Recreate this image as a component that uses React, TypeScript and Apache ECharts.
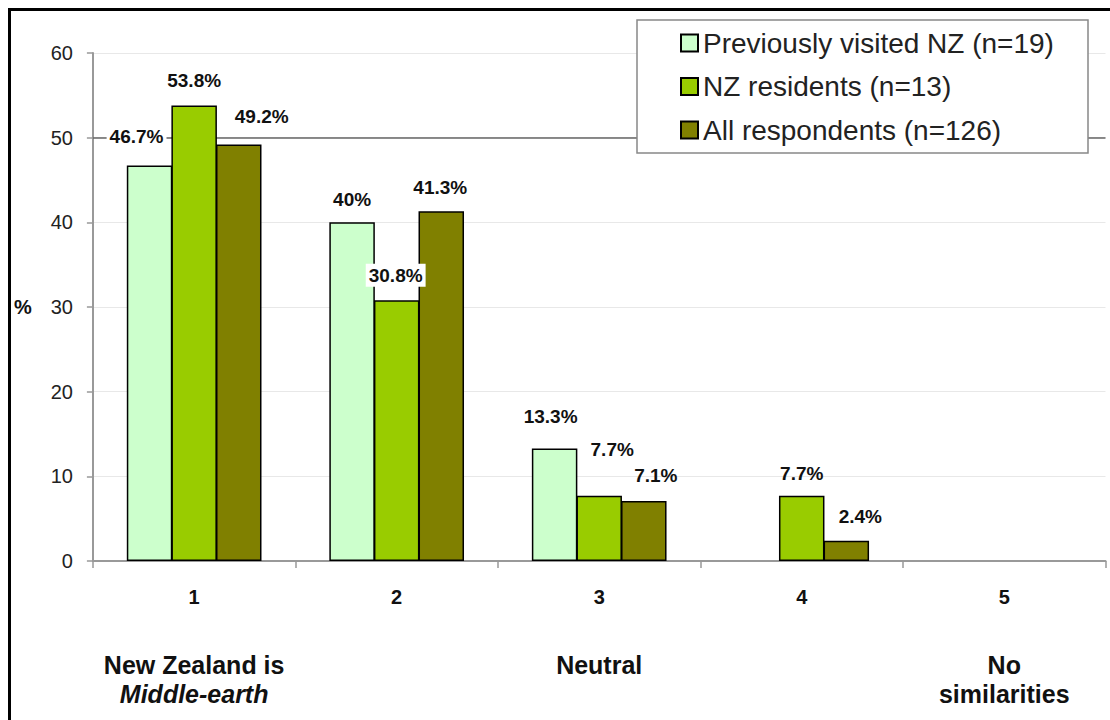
import React, { useEffect, useRef } from 'react';
import * as echarts from 'echarts';

// ---- data ----
const categories = ['1', '2', '3', '4', '5'];
const categoryNotes: string[][] = [['New Zealand is', 'Middle-earth'], [], ['Neutral'], [], ['No', 'similarities']];
const italicNotes = ['Middle-earth'];
const seriesNames = ['Previously visited NZ (n=19)', 'NZ residents (n=13)', 'All respondents (n=126)'];
const previouslyVisited = [46.7, 40, 13.3, 0, 0];
const nzResidents = [53.8, 30.8, 7.7, 7.7, 0];
const allRespondents = [49.2, 41.3, 7.1, 2.4, 0];
const yMin = 0;
const yMax = 60;
const yStep = 10;
const referenceLine = 50;
const yAxisTitle = '%';

// ---- styling (label placement: [dx, distance above bar top]) ----
const seriesColors = ['#CCFFCC', '#99CC00', '#808000'];
const labelPlacement: number[][][] = [
  [[-13, 29.5], [0, 23], [-4, 32], [0, 0], [0, 0]],
  [[0, 24.6], [-1, 25], [13, 46], [0, 22], [0, 0]],
  [[23, 28.4], [-1, 24], [12, 25], [14, 24], [0, 0]],
];
const whiteLabel: boolean[][] = [
  [true, false, false, false, false],
  [false, true, false, false, false],
  [false, false, false, false, false],
];

const FONT = 'Liberation Sans, Arial, Helvetica, sans-serif';

export default function App() {
  const ref = useRef<HTMLDivElement>(null);

  useEffect(() => {
    document.documentElement.style.overflow = 'hidden';
    document.body.style.overflow = 'hidden';
    if (!ref.current) return;
    const chart = echarts.init(ref.current, null, { renderer: 'svg' });

    const allValues = [previouslyVisited, nzResidents, allRespondents];

    const series: any[] = allValues.map((vals, si) => ({
      name: seriesNames[si],
      type: 'bar',
      barWidth: 45.5,
      barGap: '-2%',
      itemStyle: { color: seriesColors[si], borderColor: '#000', borderWidth: 1.5 },
      data: vals.map((v, ci) => {
        if (v === 0) {
          return { value: v, itemStyle: { borderWidth: 0 }, label: { show: false } };
        }
        const [dx, above] = labelPlacement[si][ci];
        return {
          value: v,
          label: {
            show: true,
            position: ['50%', -above],
            offset: [dx, 0],
            align: 'center',
            verticalAlign: 'middle',
            backgroundColor: whiteLabel[si][ci] ? '#fff' : 'transparent',
            padding: whiteLabel[si][ci] ? [2, 3] : 0,
          },
        };
      }),
      label: {
        show: true,
        formatter: (p: any) => `${p.value}%`,
        fontFamily: FONT,
        fontSize: 19,
        fontWeight: 'bold',
        color: '#111',
      },
      ...(si === 0
        ? {
            markLine: {
              silent: true,
              z: 1,
              symbol: ['none', 'none'],
              label: { show: false },
              lineStyle: { color: '#666', width: 1.5, type: 'solid' },
              data: [{ yAxis: referenceLine }],
            },
          }
        : {}),
    }));

    chart.setOption({
      animation: false,
      backgroundColor: '#fff',
      textStyle: { fontFamily: FONT },
      grid: { left: 81.5, right: 4.5, top: 42, bottom: 159, containLabel: false },
      legend: {
        orient: 'vertical',
        left: 669,
        top: 18,
        padding: 0,
        itemWidth: 17,
        itemHeight: 17,
        itemGap: 15.5,
        icon: 'rect',
        z: 6,
        selectedMode: false,
        textStyle: { fontFamily: FONT, fontSize: 28, lineHeight: 28, color: '#222' },
        data: seriesNames,
      },
      graphic: [
        {
          type: 'rect',
          z: 5,
          shape: { x: 626, y: 9, width: 451, height: 133 },
          style: { fill: '#fff', stroke: '#888', lineWidth: 1.5 },
        },
      ],
      xAxis: {
        type: 'category',
        data: categories,
        axisLine: { lineStyle: { color: '#999', width: 2 } },
        axisTick: { show: true, interval: 0, length: 7, lineStyle: { color: '#999', width: 1.5 } },
        axisLabel: {
          interval: 0,
          margin: 25,
          formatter: (val: string, idx: number) => {
            const notes = categoryNotes[idx] || [];
            let s = `{n|${val}}`;
            if (notes.length) {
              s += '\n{g| }';
              notes.forEach((line) => {
                s += `\n{${italicNotes.includes(line) ? 'i' : 'd'}|${line}}`;
              });
            }
            return s;
          },
          rich: {
            n: { fontFamily: FONT, fontSize: 20, fontWeight: 'bold', lineHeight: 22, color: '#111' },
            g: { fontSize: 10, lineHeight: 42 },
            d: { fontFamily: FONT, fontSize: 25, fontWeight: 'bold', lineHeight: 29, color: '#111' },
            i: { fontFamily: FONT, fontSize: 25, fontWeight: 'bold', fontStyle: 'italic', lineHeight: 29, color: '#111' },
          },
        },
      },
      yAxis: {
        type: 'value',
        min: yMin,
        max: yMax,
        interval: yStep,
        name: yAxisTitle,
        nameLocation: 'middle',
        nameRotate: 0,
        nameGap: 70,
        nameTextStyle: { fontFamily: FONT, fontSize: 20, fontWeight: 'bold', color: '#111', align: 'center', verticalAlign: 'middle' },
        axisLine: { show: true, lineStyle: { color: '#999', width: 2 } },
        axisTick: { show: true, length: 6, lineStyle: { color: '#999', width: 1.5 } },
        axisLabel: { fontFamily: FONT, fontSize: 20, color: '#222', margin: 20 },
        splitLine: { show: true, lineStyle: { color: '#e8e8e8', width: 1 } },
      },
      series,
    });

    return () => chart.dispose();
  }, []);

  return (
    <div
      style={{
        position: 'fixed',
        left: 8,
        top: 8,
        width: 1102,
        height: 712,
        boxSizing: 'border-box',
        borderLeft: '3px solid #000',
        borderTop: '3px solid #000',
        background: '#fff',
      }}
    >
      <div ref={ref} style={{ width: 1099, height: 709 }} />
    </div>
  );
}
